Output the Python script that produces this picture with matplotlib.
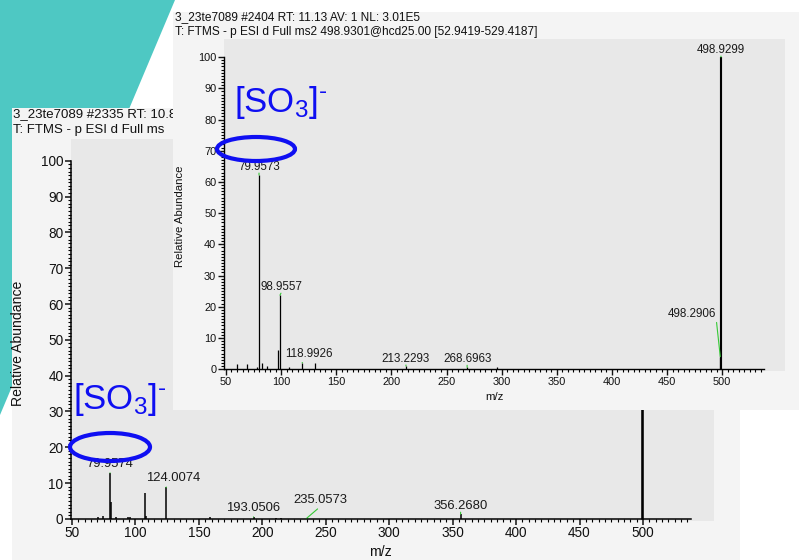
import matplotlib
matplotlib.use('Agg')
import matplotlib.pyplot as plt
from matplotlib.patches import Polygon, Ellipse, Rectangle
from matplotlib.ticker import MultipleLocator, FixedLocator

plt.rcParams['font.family'] = ['Liberation Sans', 'DejaVu Sans']
plt.rcParams['mathtext.fontset'] = 'custom'
plt.rcParams['mathtext.rm'] = 'Liberation Sans'
plt.rcParams['mathtext.it'] = 'Liberation Sans:italic'
plt.rcParams['mathtext.bf'] = 'Liberation Sans:bold'

W, H = 799, 560

# scan #2404 (front spectrum)
top_mz = [60.0, 69.3, 77.8, 79.9573, 83.0, 87.5, 96.96, 98.9557, 107.0,
          118.9926, 130.5, 213.2293, 268.6963, 295.5, 498.2906, 498.9299]
top_int = [1.6, 1.8, 0.8, 62.2, 2.1, 1.0, 6.0, 23.7, 0.8,
           2.0, 1.9, 1.0, 0.6, 0.8, 4.0, 100.0]
top_labels = [79.9573, 98.9557, 118.9926, 213.2293, 268.6963, 498.2906, 498.9299]
top_title = ['3_23te7089 #2404 RT: 11.13 AV: 1 NL: 3.01E5',
             'T: FTMS - p ESI d Full ms2 498.9301@hcd25.00 [52.9419-529.4187]']

# scan #2335 (back spectrum), header partly hidden behind the front one
bottom_mz = [70.5, 74.7, 79.9574, 81.0, 84.5, 94.5, 96.0, 107.5, 108.5,
             124.0074, 159.0, 193.0506, 211.0, 215.0, 235.0573, 356.2680, 498.93]
bottom_int = [0.5, 0.8, 12.8, 4.6, 0.6, 0.5, 0.6, 7.2, 0.8,
              8.8, 0.4, 0.5, 0.2, 0.2, 0.2, 1.3, 100.0]
bottom_labels = [79.9574, 124.0074, 193.0506, 235.0573, 356.2680]
bottom_title = ['3_23te7089 #2335 RT: 10.8',
                'T: FTMS - p ESI d Full ms']

# label offsets in pixels (dx, dy, ha)
top_offsets = {79.9573: (0, 2, 'center'), 98.9557: (1, 2, 'center'),
               118.9926: (7, 3, 'center'), 213.2293: (0, 1, 'center'),
               268.6963: (0, 2, 'center'), 498.2906: (-4, 37, 'right'),
               498.9299: (0, 1, 'center')}
bottom_offsets = {79.9574: (0, 3, 'center'), 124.0074: (7, 3, 'center'),
                  193.0506: (0, 3, 'center'), 235.0573: (14, 12, 'center'),
                  356.2680: (0, 2, 'center')}


def fig_rect(x0, y0, x1, y1):
    return [x0 / W, 1 - y1 / H, (x1 - x0) / W, (y1 - y0) / H]


def spectrum(frame, plot, xlim, ylim, mz, inten, labels, offsets, title, title_x, title_y,
             fs_title, fs_tick, fs_lab, lw, spine_lw, ylab_x, xlab_xy, title_clip=None):
    bg = fig.add_axes(fig_rect(*frame))
    bg.set_facecolor('#f4f4f4')
    bg.set_xticks([])
    bg.set_yticks([])
    for s in bg.spines.values():
        s.set_visible(False)
    for line, y in zip(title, title_y):
        t = bg.text(title_x / W, 1 - y / H, line, transform=fig.transFigure,
                    fontsize=fs_title, va='center', ha='left', color='#111111')
        if title_clip is not None:
            t.set_clip_path(Rectangle((0, 0), title_clip / W, 1, transform=fig.transFigure))

    ax = fig.add_axes(fig_rect(*plot))
    ax.set_facecolor('#e8e8e8')
    ax.set_xlim(*xlim)
    ax.set_ylim(*ylim)
    widths = [lw * 1.7 if v >= 99 else lw for v in inten]
    ax.vlines(mz, 0, inten, colors='black', linewidths=widths)

    for m in labels:
        dx, dy, ha = offsets[m]
        ax.annotate(f'{m:.4f}', xy=(m, inten[mz.index(m)]), xytext=(dx * 0.72, dy * 0.72),
                    textcoords='offset points', ha=ha, va='bottom', fontsize=fs_lab,
                    color='#1a1a1a',
                    arrowprops=dict(arrowstyle='-', color='#35c935', lw=0.8,
                                    shrinkA=0, shrinkB=0,
                                    relpos=(1, 0) if ha == 'right' else (0.5, 0)))

    ax.spines['top'].set_visible(False)
    ax.spines['right'].set_visible(False)
    ax.spines['bottom'].set_position(('data', 0))
    ax.spines['left'].set_bounds(0, 100)
    ax.spines['bottom'].set_bounds(xlim[0], 538)
    for s in ('left', 'bottom'):
        ax.spines[s].set_linewidth(spine_lw)
    ax.set_xticks(range(50, 501, 50))
    ax.xaxis.set_minor_locator(FixedLocator([v for v in range(50, 540, 5) if v % 50]))
    ax.yaxis.set_major_locator(MultipleLocator(10))
    ax.yaxis.set_minor_locator(FixedLocator([v for v in range(0, 101) if v % 10]))
    ax.set_yticks(range(0, 101, 10))
    ax.tick_params(which='major', direction='out', length=4, width=spine_lw,
                   labelsize=fs_tick, pad=1.5, colors='#111111')
    ax.tick_params(axis='y', which='minor', direction='out', length=2, width=0.8)
    ax.tick_params(axis='x', which='minor', direction='out', length=2.5, width=0.8)
    ax.set_ylabel('Relative Abundance', fontsize=fs_tick + 0.3, color='#111111')
    ax.yaxis.set_label_coords(ylab_x, 0.466)
    ax.set_xlabel('m/z', fontsize=fs_tick + 0.3, color='#111111')
    ax.xaxis.set_label_coords(*xlab_xy)
    return ax


fig = plt.figure(figsize=(W / 100, H / 100), dpi=100)
fig.patches.append(Polygon([(0, 1), (175 / W, 1), (0, 1 - 415 / H)], closed=True,
                           transform=fig.transFigure, facecolor='#4ec8c3',
                           edgecolor='none', zorder=-5))

spectrum((12, 108, 740, 560), (71, 139, 714, 521), (49.2, 556), (-0.6, 106.1),
         bottom_mz, bottom_int, bottom_labels, bottom_offsets, bottom_title, 13, (114, 130),
         9.5, 9.8, 9.4, 1.1, 1.1, -0.072, (0.481, -0.063), title_clip=173)

spectrum((173, 12, 799, 410), (224, 39, 785, 371), (48.2, 557), (-0.6, 105.8),
         top_mz, top_int, top_labels, top_offsets, top_title, 175, (17, 32),
         8.6, 7.9, 8.4, 0.9, 1.0, -0.069, (0.483, -0.063))

# SO3- annotations
blue = '#0f0ff2'
so3 = r'[SO$_3$]$^{\text{-}}$'
fig.text(234 / W, 1 - 112 / H, so3, fontsize=25, color=blue,
         va='baseline', ha='left', zorder=10)
fig.text(73 / W, 1 - 409 / H, so3, fontsize=25, color=blue,
         va='baseline', ha='left', zorder=10)
for cx, cy, ew, eh in [(256, 149, 78, 24), (110, 447, 80, 28)]:
    fig.patches.append(Ellipse((cx / W, 1 - cy / H), ew / W, eh / H,
                               transform=fig.transFigure, facecolor='none',
                               edgecolor=blue, lw=3.0, zorder=10))

fig.savefig('out.png', dpi=100)
